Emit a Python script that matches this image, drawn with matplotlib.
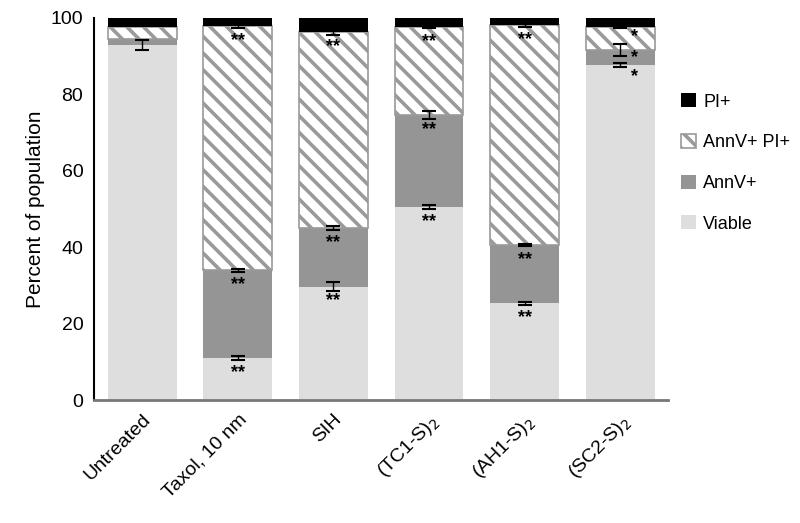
import matplotlib
matplotlib.use('Agg')
import matplotlib.pyplot as plt
import numpy as np

plt.rcParams['font.family'] = ['Liberation Sans', 'DejaVu Sans']
plt.rcParams['hatch.linewidth'] = 2.6

groups = ['Untreated', 'Taxol, 10 nm', 'SIH', '(TC1-S)$_2$', '(AH1-S)$_2$', '(SC2-S)$_2$']
# cumulative tops of each segment (percent)
viable = [92.9, 11.1, 29.7, 50.5, 25.3, 87.7]
annv = [94.5, 33.9, 45.1, 74.5, 40.5, 91.6]
annv_pi = [97.6, 97.9, 96.2, 97.5, 98.0, 97.6]
total = [100, 100, 100, 100, 100, 100]

viable_err = [1.2, 0.5, 1.2, 0.5, 0.4, 0.5]
annv_err = [0.0, 0.4, 0.5, 1.0, 0.3, 1.6]
annv_pi_err = [0.0, 0.5, 0.6, 0.3, 0.3, 0.4]

stars = ['', '**', '**', '**', '**', '*']

x = np.arange(len(groups))
w = 0.72

fig, ax = plt.subplots(figsize=(8, 5.23), dpi=100)
fig.subplots_adjust(left=0.118, right=0.835, top=0.966, bottom=0.235)

v = np.array(viable)
a = np.array(annv)
ap = np.array(annv_pi)
t = np.array(total)

ax.bar(x, v, w, color='#dedede', label='Viable', zorder=2)
ax.bar(x, a - v, w, bottom=v, color='#959595', label='AnnV+', zorder=2)
ax.bar(x, ap - a, w, bottom=a, facecolor='white', edgecolor='#9a9a9a',
       hatch='\\\\', linewidth=1.2, label='AnnV+ PI+', zorder=2)
ax.bar(x, t - ap, w, bottom=ap, color='black', label='PI+', zorder=2)

ekw = dict(fmt='none', ecolor='black', elinewidth=1, capsize=5, capthick=1.5, zorder=4)
ax.errorbar(x, v, yerr=viable_err, **ekw)
ax.errorbar(x[1:], a[1:], yerr=annv_err[1:], **ekw)
ax.errorbar(x[1:], ap[1:], yerr=annv_pi_err[1:], **ekw)

for i, s in enumerate(stars):
    if not s:
        continue
    if s == '*':
        offs = [(v[i], 3.2), (a[i], 2.0), (ap[i], 2.6)]
        dx = 0.15
    else:
        offs = [(v[i], 3.8), (a[i], 3.8), (ap[i], 3.8)]
        dx = 0.0
    for top, off in offs:
        ax.text(x[i] + dx, top - off, s, ha='center', va='center',
                fontsize=13, fontweight='bold', zorder=5)

ax.set_xlim(-0.5, 5.5)
ax.set_ylim(0, 100)
ax.set_yticks([0, 20, 40, 60, 80, 100])
ax.set_ylabel('Percent of population', fontsize=15)
ax.set_xticks(x)
ax.set_xticklabels(groups, rotation=45, ha='right', rotation_mode='anchor', fontsize=14)
ax.tick_params(axis='y', labelsize=14, length=0, pad=8)
ax.tick_params(axis='x', length=0, pad=8)
ax.spines['top'].set_visible(False)
ax.spines['right'].set_visible(False)
ax.spines['bottom'].set_color('#777777')
ax.spines['bottom'].set_linewidth(2)
ax.spines['left'].set_linewidth(1.5)

handles, labels = ax.get_legend_handles_labels()
ax.legend(handles[::-1], labels[::-1], loc='center left', bbox_to_anchor=(0.995, 0.62),
          frameon=False, fontsize=13, handlelength=0.8, handleheight=0.8,
          handletextpad=0.4, labelspacing=1.3)

fig.savefig('out.png', dpi=100)
